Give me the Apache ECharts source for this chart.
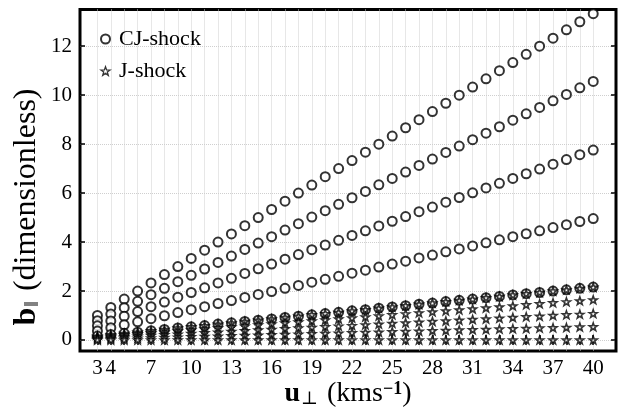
<!DOCTYPE html>
<html>
<head>
<meta charset="utf-8">
<script src="https://cdn.jsdelivr.net/npm/echarts@6/dist/echarts.min.js"></script>
<style>
  html, body { margin: 0; padding: 0; background: #fff; }
  #chart { width: 627px; height: 412px; }
</style>
</head>
<body>
<div id="chart"></div>
<script>
// u_perp values (km/s) and tick labels
const uPerp = [3, 4, 5, 6, 7, 8, 9, 10, 11, 12, 13, 14, 15, 16, 17, 18, 19, 20, 21, 22,
  23, 24, 25, 26, 27, 28, 29, 30, 31, 32, 33, 34, 35, 36, 37, 38, 39, 40];
const xLabels = [3, 4, 7, 10, 13, 16, 19, 22, 25, 28, 31, 34, 37, 40];
const yLabels = [0, 2, 4, 6, 8, 10, 12];

// CJ-shock (circles)
const cj1 = [1.00, 1.33, 1.67, 2.00, 2.33, 2.67, 3.00, 3.33, 3.67, 4.00, 4.33, 4.67, 5.00, 5.33, 5.67, 6.00, 6.33, 6.67, 7.00, 7.33,
  7.67, 8.00, 8.33, 8.67, 9.00, 9.33, 9.67, 10.00, 10.33, 10.67, 11.00, 11.33, 11.67, 12.00, 12.33, 12.67, 13.00, 13.33];
const cj2 = [0.79, 1.06, 1.32, 1.58, 1.85, 2.11, 2.38, 2.64, 2.90, 3.17, 3.43, 3.70, 3.96, 4.22, 4.49, 4.75, 5.02, 5.28, 5.54, 5.81,
  6.07, 6.34, 6.60, 6.86, 7.13, 7.39, 7.66, 7.92, 8.18, 8.45, 8.71, 8.98, 9.24, 9.50, 9.77, 10.03, 10.30, 10.56];
const cj3 = [0.58, 0.78, 0.97, 1.16, 1.36, 1.55, 1.75, 1.94, 2.13, 2.33, 2.52, 2.72, 2.91, 3.10, 3.30, 3.49, 3.69, 3.88, 4.07, 4.27,
  4.46, 4.66, 4.85, 5.04, 5.24, 5.43, 5.63, 5.82, 6.01, 6.21, 6.40, 6.60, 6.79, 6.98, 7.18, 7.37, 7.57, 7.76];
const cj4 = [0.37, 0.50, 0.62, 0.74, 0.87, 0.99, 1.12, 1.24, 1.36, 1.49, 1.61, 1.74, 1.86, 1.98, 2.11, 2.23, 2.36, 2.48, 2.60, 2.73,
  2.85, 2.98, 3.10, 3.22, 3.35, 3.47, 3.60, 3.72, 3.84, 3.97, 4.09, 4.22, 4.34, 4.46, 4.59, 4.71, 4.84, 4.96];
const cj5 = [0.16, 0.22, 0.27, 0.32, 0.38, 0.43, 0.49, 0.54, 0.59, 0.65, 0.70, 0.76, 0.81, 0.86, 0.92, 0.97, 1.03, 1.08, 1.13, 1.19,
  1.24, 1.30, 1.35, 1.40, 1.46, 1.51, 1.57, 1.62, 1.67, 1.73, 1.78, 1.84, 1.89, 1.94, 2.00, 2.05, 2.11, 2.16];

// J-shock (stars)
const j1 = [0.16, 0.22, 0.27, 0.32, 0.38, 0.43, 0.49, 0.54, 0.59, 0.65, 0.70, 0.76, 0.81, 0.86, 0.92, 0.97, 1.03, 1.08, 1.13, 1.19,
  1.24, 1.30, 1.35, 1.40, 1.46, 1.51, 1.57, 1.62, 1.67, 1.73, 1.78, 1.84, 1.89, 1.94, 2.00, 2.05, 2.11, 2.16];
const j2 = [0.12, 0.16, 0.21, 0.25, 0.29, 0.33, 0.37, 0.41, 0.45, 0.49, 0.53, 0.57, 0.62, 0.66, 0.70, 0.74, 0.78, 0.82, 0.86, 0.90,
  0.94, 0.98, 1.03, 1.07, 1.11, 1.15, 1.19, 1.23, 1.27, 1.31, 1.35, 1.39, 1.44, 1.48, 1.52, 1.56, 1.60, 1.64];
const j3 = [0.08, 0.11, 0.14, 0.16, 0.19, 0.22, 0.24, 0.27, 0.30, 0.32, 0.35, 0.38, 0.41, 0.43, 0.46, 0.49, 0.51, 0.54, 0.57, 0.59,
  0.62, 0.65, 0.68, 0.70, 0.73, 0.76, 0.78, 0.81, 0.84, 0.86, 0.89, 0.92, 0.95, 0.97, 1.00, 1.03, 1.05, 1.08];
const j4 = [0.04, 0.05, 0.07, 0.08, 0.09, 0.11, 0.12, 0.14, 0.15, 0.16, 0.18, 0.19, 0.20, 0.22, 0.23, 0.24, 0.26, 0.27, 0.28, 0.30,
  0.31, 0.32, 0.34, 0.35, 0.36, 0.38, 0.39, 0.41, 0.42, 0.43, 0.45, 0.46, 0.47, 0.49, 0.50, 0.51, 0.53, 0.54];
const j5 = [0, 0, 0, 0, 0, 0, 0, 0, 0, 0, 0, 0, 0, 0, 0, 0, 0, 0, 0, 0,
  0, 0, 0, 0, 0, 0, 0, 0, 0, 0, 0, 0, 0, 0, 0, 0, 0, 0];

const cjSeries = [cj1, cj2, cj3, cj4, cj5];
const jSeries = [j1, j2, j3, j4, j5];

const serif = '"Liberation Serif", "DejaVu Serif", serif';
const star = 'path://M0,-10L2.35,-3.24L9.51,-3.09L3.8,1.24L5.88,8.09L0,4L-5.88,8.09L-3.8,1.24L-9.51,-3.09L-2.35,-3.24Z';
const xMin = 1.7, xMax = 41.7, yMin = -0.45, yMax = 13.5;

function pairs(ys) {
  return uPerp.map((u, i) => [u, ys[i]]);
}

let myChart = echarts.init(document.getElementById('chart'));

let series = [];
for (let ys of cjSeries) {
  series.push({
    name: 'CJ-shock',
    type: 'scatter',
    symbol: 'emptyCircle',
    symbolSize: 9,
    itemStyle: { color: '#000', borderColor: '#000', borderWidth: 2 },
    data: pairs(ys),
    z: 2,
  });
}
for (let ys of jSeries) {
  series.push({
    name: 'J-shock',
    type: 'scatter',
    symbol: star,
    symbolKeepAspect: true,
    symbolSize: 8,
    itemStyle: { color: '#fff', borderColor: '#000', borderWidth: 1.6 },
    data: pairs(ys),
    z: 3,
  });
}

const gridLine = { show: true, lineStyle: { color: '#cfcfcf', type: 'dotted', width: 1 } };

let option = {
  animation: false,
  backgroundColor: '#fff',
  grid: {
    left: 80, right: 11, top: 9.5, bottom: 61,
    show: true, borderColor: '#000', borderWidth: 3, backgroundColor: 'transparent',
  },
  legend: {
    orient: 'vertical',
    left: 95, top: 23,
    itemWidth: 9, itemHeight: 9, itemGap: 10,
    data: [
      { name: 'CJ-shock' },
      { name: 'J-shock', icon: star, itemStyle: { color: '#fff', borderColor: '#000', borderWidth: 1.3 } },
    ],
    textStyle: { fontFamily: serif, fontSize: 22, color: '#000', padding: [0, 0, 0, 4] },
  },
  xAxis: [
    {
      type: 'value', min: xMin, max: xMax, position: 'bottom',
      axisLine: { show: false },
      axisTick: { inside: true, length: 5, customValues: uPerp, lineStyle: { color: '#000', width: 1.5 } },
      axisLabel: { customValues: xLabels, fontFamily: serif, fontSize: 21, color: '#000', margin: 7 },
      splitLine: gridLine,
    },
    {
      type: 'value', min: xMin, max: xMax, position: 'top',
      axisLine: { show: false },
      axisTick: { inside: true, length: 5, customValues: uPerp, lineStyle: { color: '#000', width: 1.5 } },
      axisLabel: { show: false },
      splitLine: { show: false },
    },
  ],
  yAxis: [
    {
      type: 'value', min: yMin, max: yMax, position: 'left',
      axisLine: { show: false },
      axisTick: { inside: true, length: 5, customValues: yLabels, lineStyle: { color: '#000', width: 1.5 } },
      axisLabel: { customValues: yLabels, fontFamily: serif, fontSize: 21, color: '#000', margin: 8 },
      splitLine: gridLine,
    },
    {
      type: 'value', min: yMin, max: yMax, position: 'right',
      axisLine: { show: false },
      axisTick: { inside: true, length: 5, customValues: yLabels, lineStyle: { color: '#000', width: 1.5 } },
      axisLabel: { show: false },
      splitLine: { show: false },
    },
  ],
  graphic: [
    {
      type: 'text', x: 348, y: 394,
      style: {
        text: '{b|u}{sub|⊥} (kms{sup|−1})',
        fontFamily: serif, fontSize: 28, fill: '#000',
        align: 'center', verticalAlign: 'middle',
        rich: {
          b: { fontFamily: serif, fontSize: 28, fontWeight: 'bold' },
          sub: { fontFamily: serif, fontSize: 18, verticalAlign: 'bottom', padding: [0, 2, 0, 1] },
          sup: { fontFamily: serif, fontSize: 18, fontWeight: 'bold', verticalAlign: 'top' },
        },
      },
    },
    {
      type: 'text', x: 27, y: 207, rotation: Math.PI / 2,
      style: {
        text: '{b|b}{sub|‖} (dimensionless)',
        fontFamily: serif, fontSize: 32, fill: '#000',
        align: 'center', verticalAlign: 'middle',
        rich: {
          b: { fontFamily: serif, fontSize: 32, fontWeight: 'bold' },
          sub: { fontFamily: serif, fontSize: 20, verticalAlign: 'bottom', padding: [0, 2, 0, 1] },
        },
      },
    },
  ],
  series: series,
};
option && myChart.setOption(option);
</script>
</body>
</html>
